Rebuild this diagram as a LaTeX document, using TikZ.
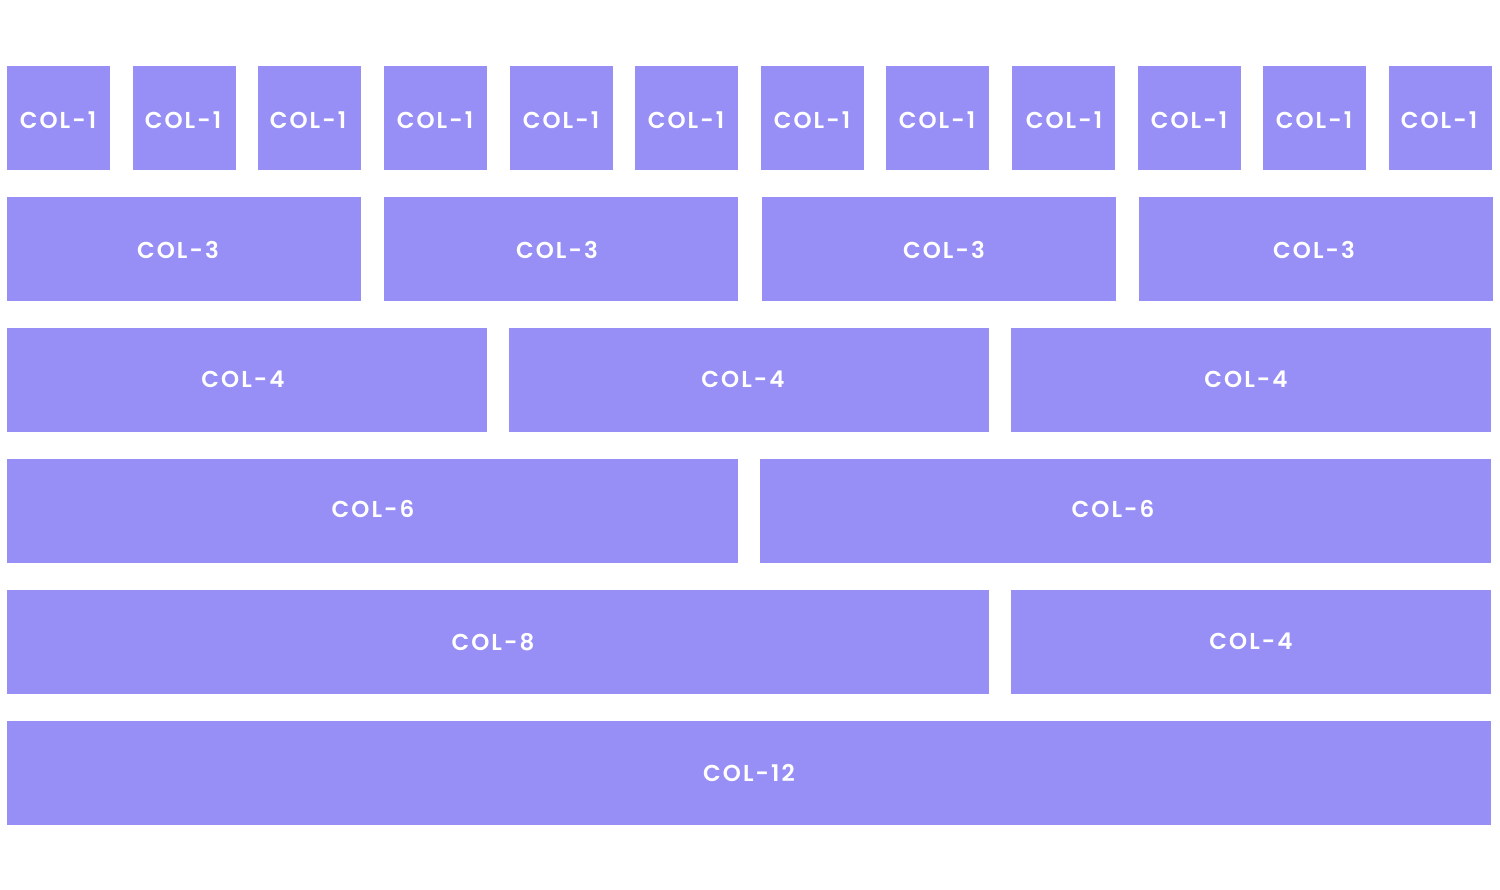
\documentclass[tikz,border=0pt]{standalone}
\usepackage{fontspec}
\setmainfont{Poppins}[UprightFont=* SemiBold,LetterSpace=9]
\definecolor{boxc}{RGB}{151,143,246}
\begin{document}
\begin{tikzpicture}[x=1pt,y=-1pt,
  cell/.style={fill=boxc,draw=none,inner sep=0pt,anchor=north west,minimum height=104},
  lbl/.style={text=white,font=\fontsize{23}{26}\selectfont,inner sep=0pt,anchor=center}]
\useasboundingbox[fill=white] (0,0) rectangle (1500,890);
% row 1
\foreach \i/\x/\tx in {1/7/58,2/133/183,3/258/308,4/384/435,5/510/561,6/635/686,7/761/812,8/886/937,9/1012/1064,10/1138/1189,11/1263/1314,12/1389/1439}{
  \node[cell,minimum width=103] (a\i) at (\x,66) {};
  \node[lbl] (ta\i) at (\tx,120) {COL-1};
}
% row 2
\foreach \i/\x/\tx in {1/7/178,2/384/557,3/762/944,4/1139/1314}{
  \node[cell,minimum width=354] (b\i) at (\x,197) {};
  \node[lbl] (tb\i) at (\tx,250) {COL-3};
}
% row 3
\foreach \i/\x/\tx in {1/7/243,2/509/743,3/1011/1246}{
  \node[cell,minimum width=480] (c\i) at (\x,328) {};
  \node[lbl] (tc\i) at (\tx,379) {COL-4};
}
% row 4
\foreach \i/\x/\tx in {1/7/373,2/760/1113}{
  \node[cell,minimum width=731] (d\i) at (\x,459) {};
  \node[lbl] (td\i) at (\tx,509) {COL-6};
}
% row 5
\node[cell,minimum width=982] (e1) at (7,590) {};
\node[lbl] (te1) at (493,642) {COL-8};
\node[cell,minimum width=480] (e2) at (1011,590) {};
\node[lbl] (te2) at (1251,641) {COL-4};
% row 6
\node[cell,minimum width=1484] (f1) at (7,721) {};
\node[lbl] (tf1) at (749,773) {COL-12};
\end{tikzpicture}
\end{document}
